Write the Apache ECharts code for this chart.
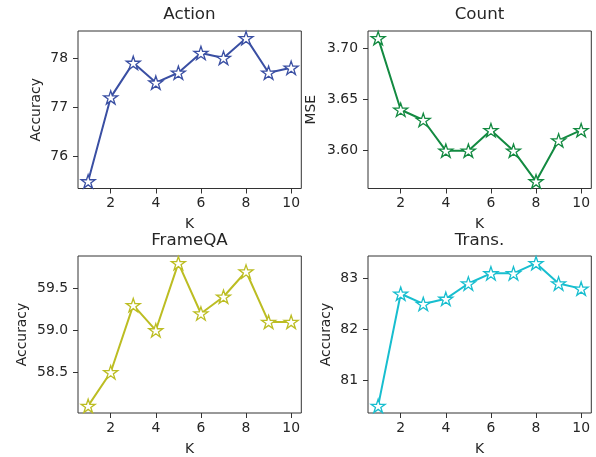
<!DOCTYPE html>
<html>
<head>
<meta charset="utf-8">
<script src="https://cdn.jsdelivr.net/npm/echarts@6/dist/echarts.min.js"></script>
<style>html,body{margin:0;padding:0;background:#fff;}#c{width:596px;height:457px;}</style>
</head>
<body>
<div id="c"></div>
<script>
const kValues = [1,2,3,4,5,6,7,8,9,10];
const xTicks = [2,4,6,8,10];
const actionAcc = [75.5,77.2,77.9,77.5,77.7,78.1,78.0,78.4,77.7,77.8];
const countMse = [3.71,3.64,3.63,3.60,3.60,3.62,3.60,3.57,3.61,3.62];
const frameqaAcc = [58.1,58.5,59.3,59.0,59.8,59.2,59.4,59.7,59.1,59.1];
const transAcc = [80.5,82.7,82.5,82.6,82.9,83.1,83.1,83.3,82.9,82.8];
const actionTicks = [76,77,78];
const countTicks = [3.60,3.65,3.70];
const frameqaTicks = [58.5,59.0,59.5];
const transTicks = [81,82,83];
const titles = ['Action','Count','FrameQA','Trans.'];
const yNames = ['Accuracy','MSE','Accuracy','Accuracy'];

const FONT = 'DejaVu Sans';
const TXT = '#262626';
const colors = ['#3a4fa3','#138a41','#bcbd22','#17becf'];
const star = 'path://M50 0 L61.23 34.55 L97.55 34.55 L68.17 55.9 L79.39 90.45 L50 69.1 L20.61 90.45 L31.83 55.9 L2.45 34.55 L38.77 34.55 Z';

function lim(arr){const lo=Math.min(...arr),hi=Math.max(...arr),m=(hi-lo)*0.05;return [lo-m,hi+m];}
const panels = [
  {data:actionAcc, ticks:actionTicks, dec:0, grid:{left:78,top:31,width:223.3,height:157.5}, gap:35, title:{x:189.5,y:6}},
  {data:countMse, ticks:countTicks, dec:2, grid:{left:368,top:31,width:223.3,height:157.5}, gap:50, title:{x:479.5,y:6}},
  {data:frameqaAcc, ticks:frameqaTicks, dec:1, grid:{left:78,top:256,width:223.3,height:157.5}, gap:49, title:{x:189.5,y:232}},
  {data:transAcc, ticks:transTicks, dec:0, grid:{left:368,top:256,width:223.3,height:157.5}, gap:35, title:{x:479.5,y:232}}
];

const option = {
  animation:false,
  backgroundColor:'#fff',
  title: panels.map((p,i)=>({text:titles[i], left:p.title.x, top:p.title.y, textAlign:'center', padding:0,
    textStyle:{fontFamily:FONT,fontSize:16.7,fontWeight:'normal',color:TXT}})),
  grid: panels.map(p=>Object.assign({show:true,borderColor:'#333',borderWidth:1,backgroundColor:'transparent'},p.grid)),
  xAxis: panels.map((p,i)=>({type:'value', gridIndex:i, min:0.55, max:10.45,
    name:'K', nameLocation:'middle', nameGap:29, nameTextStyle:{fontFamily:FONT,fontSize:13.9,color:TXT},
    axisLine:{show:false}, splitLine:{show:false},
    axisTick:{show:true,inside:false,length:5,lineStyle:{color:'#333',width:1},customValues:xTicks},
    axisLabel:{customValues:xTicks,fontFamily:FONT,fontSize:13.9,color:TXT,margin:8}})),
  yAxis: panels.map((p,i)=>{const [lo,hi]=lim(p.data);return {type:'value', gridIndex:i, min:lo, max:hi,
    name:yNames[i], nameLocation:'middle', nameGap:p.gap, nameTextStyle:{fontFamily:FONT,fontSize:13.9,color:TXT},
    axisLine:{show:false}, splitLine:{show:false},
    axisTick:{show:true,inside:false,length:5,lineStyle:{color:'#333',width:1},customValues:p.ticks},
    axisLabel:{customValues:p.ticks,fontFamily:FONT,fontSize:13.9,color:TXT,margin:10,formatter:v=>Number(v).toFixed(p.dec)}};}),
  series: panels.map((p,i)=>({type:'line', xAxisIndex:i, yAxisIndex:i,
    data:kValues.map((k,j)=>[k,p.data[j]]),
    lineStyle:{color:colors[i],width:2}, symbol:star, symbolSize:14, symbolKeepAspect:true,
    itemStyle:{color:'#fff',borderColor:colors[i],borderWidth:1.3}}))
};
echarts.init(document.getElementById('c'),null,{renderer:'canvas'}).setOption(option);
</script>
</body>
</html>
